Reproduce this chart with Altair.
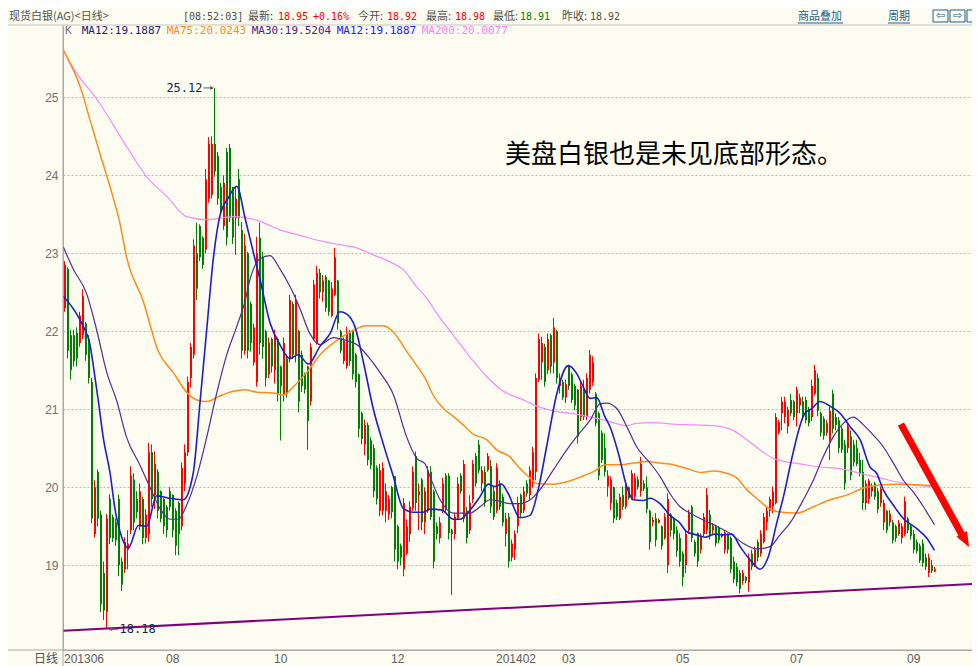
import altair as alt
import pandas as pd

# ---------------- data ----------------
# daily candles (open, high, low, close), Jun 2013 -> Sep 2014
candles = [
    (22.30, 22.90, 22.25, 22.85), (22.80, 22.82, 21.65, 21.75), (21.95, 22.02, 21.38, 21.50),
    (21.95, 22.02, 21.55, 21.62), (21.98, 22.05, 21.55, 21.65), (21.85, 22.25, 21.80, 22.20),
    (21.95, 22.54, 21.90, 22.45), (22.10, 22.12, 21.62, 21.70), (21.90, 21.95, 21.33, 21.40),
    (21.35, 21.40, 19.54, 19.60), (19.40, 20.09, 19.36, 20.00), (20.20, 20.23, 19.50, 19.60),
    (19.65, 19.70, 18.40, 18.50), (18.90, 19.05, 18.30, 18.42), (18.40, 19.66, 18.18, 19.60),
    (19.85, 19.91, 19.27, 19.35), (19.62, 19.65, 19.30, 19.35), (19.55, 19.60, 19.25, 19.32),
    (19.85, 19.91, 18.86, 19.00), (19.05, 19.10, 18.67, 18.75), (18.95, 19.36, 18.90, 19.30),
    (19.20, 19.45, 18.95, 19.28), (19.45, 20.27, 19.40, 20.15), (20.10, 20.18, 19.45, 19.55),
    (19.85, 19.95, 19.60, 19.68), (19.50, 20.05, 19.45, 19.95), (19.85, 19.88, 19.27, 19.35),
    (19.35, 19.72, 19.28, 19.65), (19.40, 20.57, 19.30, 20.45), (20.45, 20.55, 19.75, 19.85),
    (19.90, 20.46, 19.72, 20.30), (20.20, 20.23, 19.60, 19.70), (19.95, 19.96, 19.55, 19.60),
    (19.85, 19.86, 19.40, 19.50), (19.75, 19.77, 19.36, 19.45), (19.95, 20.00, 19.70, 19.75),
    (19.90, 19.91, 19.36, 19.45), (19.70, 19.73, 19.13, 19.25), (19.80, 19.82, 19.13, 19.40),
    (19.50, 20.32, 19.45, 20.25), (20.05, 20.55, 19.95, 20.45), (20.45, 21.42, 20.40, 21.35),
    (21.40, 21.85, 21.28, 21.80), (21.70, 23.18, 21.65, 23.10), (23.00, 23.39, 22.40, 22.55),
    (23.35, 23.37, 22.90, 22.95), (23.20, 23.22, 22.80, 22.85), (23.05, 24.08, 23.00, 23.95),
    (23.70, 24.49, 23.65, 24.40), (23.75, 24.50, 23.70, 24.40), (24.40, 25.12, 23.98, 24.05),
    (24.25, 24.30, 23.62, 23.70), (23.85, 23.90, 23.50, 23.55), (23.35, 24.00, 23.30, 23.90),
    (24.30, 24.35, 23.10, 23.20), (24.35, 24.40, 23.40, 23.45), (23.85, 23.85, 23.12, 23.20),
    (23.45, 23.85, 22.98, 23.70), (23.95, 24.08, 23.35, 23.45), (23.30, 23.40, 21.65, 21.75),
    (21.75, 23.25, 21.70, 23.10), (23.00, 23.02, 21.65, 21.75), (22.35, 22.38, 21.74, 21.85),
    (21.60, 22.10, 21.56, 22.05), (21.35, 23.21, 21.29, 23.00), (23.20, 23.39, 21.70, 21.85),
    (22.95, 23.02, 21.65, 21.80), (22.00, 22.02, 21.29, 21.40), (21.45, 21.92, 21.40, 21.85),
    (21.90, 21.92, 21.47, 21.55), (21.50, 22.02, 21.33, 21.95), (21.90, 21.92, 21.10, 21.20),
    (21.55, 21.56, 20.60, 21.30), (21.20, 21.92, 21.10, 21.85), (21.65, 21.70, 21.15, 21.20),
    (21.65, 22.47, 21.60, 22.40), (22.35, 22.38, 21.65, 21.70), (21.70, 22.47, 21.60, 22.40),
    (22.00, 22.02, 20.96, 21.10), (21.70, 21.75, 21.22, 21.30), (21.45, 21.47, 21.20, 21.25),
    (21.55, 21.56, 20.48, 20.85), (21.10, 21.85, 21.05, 21.80), (21.90, 22.66, 21.88, 22.60),
    (21.85, 22.84, 21.83, 22.75), (22.75, 22.80, 22.42, 22.50), (22.50, 22.72, 22.38, 22.65),
    (22.70, 22.72, 22.25, 22.30), (22.65, 22.66, 22.20, 22.25), (22.20, 22.63, 22.18, 22.55),
    (22.47, 23.07, 22.45, 22.95), (22.65, 22.66, 22.02, 22.10), (22.00, 22.02, 21.72, 21.75),
    (21.62, 21.92, 21.58, 21.88), (21.55, 22.06, 21.52, 21.98), (21.98, 22.02, 21.56, 21.62),
    (22.00, 22.02, 21.38, 21.45), (21.70, 21.72, 21.28, 21.35), (21.45, 21.46, 20.64, 20.75),
    (20.95, 20.97, 20.55, 20.62), (20.55, 20.87, 20.41, 20.80), (20.80, 20.83, 20.28, 20.35),
    (20.60, 20.64, 20.23, 20.28), (20.50, 20.55, 19.87, 19.95), (20.25, 20.28, 19.78, 19.85),
    (19.70, 20.30, 19.63, 20.22), (19.70, 20.32, 19.64, 20.25), (19.70, 20.05, 19.55, 19.95),
    (19.65, 19.90, 19.58, 19.85), (20.00, 20.02, 19.60, 19.68), (20.14, 20.14, 19.05, 19.20),
    (19.50, 19.52, 18.95, 19.05), (19.25, 19.28, 19.00, 19.10), (18.95, 19.86, 18.86, 19.80),
    (19.15, 19.59, 19.13, 19.50), (19.40, 19.82, 19.30, 19.75), (19.73, 20.27, 19.70, 20.20),
    (20.40, 20.46, 19.70, 19.80), (19.90, 20.05, 19.45, 19.95), (20.10, 20.12, 19.45, 19.55),
    (19.55, 20.00, 19.40, 19.95), (19.70, 20.27, 19.67, 20.22), (20.20, 20.27, 19.58, 19.62),
    (19.95, 19.97, 18.96, 19.05), (19.50, 19.55, 19.33, 19.40), (19.35, 19.62, 19.28, 19.55),
    (19.70, 20.12, 19.67, 20.05), (20.15, 20.18, 19.67, 19.72), (20.15, 20.18, 19.33, 19.41),
    (19.45, 19.47, 18.62, 19.40), (19.40, 19.67, 19.33, 19.62), (19.60, 20.13, 19.58, 20.05),
    (20.15, 20.18, 19.92, 19.95), (19.60, 20.35, 19.55, 20.30), (19.70, 19.75, 19.28, 19.35),
    (19.45, 19.90, 19.40, 19.80), (19.85, 20.35, 19.80, 20.30), (20.40, 20.44, 20.01, 20.05),
    (20.55, 20.61, 20.18, 20.22), (20.05, 20.27, 19.95, 20.22), (20.20, 20.27, 19.75, 19.80),
    (20.22, 20.44, 20.20, 20.40), (20.27, 20.35, 19.67, 19.75), (19.95, 20.01, 19.58, 19.62),
    (19.70, 20.31, 19.67, 20.25), (20.05, 20.09, 19.71, 19.75), (19.88, 19.92, 19.50, 19.55),
    (19.40, 19.67, 19.24, 19.60), (19.62, 19.67, 18.97, 19.05), (19.10, 19.33, 19.05, 19.28),
    (19.20, 19.45, 19.07, 19.40), (19.50, 19.88, 19.41, 19.80), (19.90, 19.92, 19.62, 19.67),
    (19.70, 20.01, 19.67, 19.95), (20.05, 20.09, 19.88, 19.92), (19.90, 20.27, 19.84, 20.22),
    (20.05, 20.52, 20.00, 20.45), (20.20, 21.46, 20.09, 21.40), (21.38, 21.97, 21.35, 21.90),
    (21.60, 21.93, 21.38, 21.85), (21.80, 21.84, 21.29, 21.35), (21.50, 21.97, 21.45, 21.90),
    (21.95, 21.97, 21.46, 21.55), (21.60, 22.17, 21.46, 22.05), (22.00, 22.02, 21.33, 21.40),
    (21.30, 21.46, 21.20, 21.40), (21.35, 21.38, 21.12, 21.15), (21.15, 21.38, 21.08, 21.32),
    (21.55, 21.57, 21.25, 21.30), (21.45, 21.47, 21.08, 21.12), (21.30, 21.33, 20.99, 21.05),
    (21.25, 21.26, 20.56, 20.65), (20.90, 21.35, 20.85, 21.30), (21.25, 21.38, 20.86, 20.90),
    (20.90, 21.46, 20.86, 21.40), (21.25, 21.76, 21.20, 21.70), (21.35, 21.68, 21.30, 21.60),
    (21.20, 21.22, 20.78, 20.82), (20.95, 20.97, 20.09, 20.15), (20.70, 20.73, 20.31, 20.35),
    (20.50, 20.69, 20.14, 20.20), (20.01, 20.22, 19.88, 20.15), (19.80, 20.14, 19.71, 20.10),
    (20.00, 20.01, 19.54, 19.60), (19.80, 19.84, 19.58, 19.62), (19.60, 19.92, 19.58, 19.88),
    (19.90, 20.01, 19.71, 19.75), (19.75, 20.09, 19.72, 20.05), (20.00, 20.01, 19.84, 19.86),
    (19.85, 20.22, 19.84, 20.18), (19.88, 20.18, 19.84, 20.12), (20.10, 20.14, 19.97, 20.00),
    (19.95, 20.39, 19.88, 20.30), (20.05, 20.09, 19.95, 19.98), (20.00, 20.14, 19.67, 19.72),
    (19.70, 19.71, 19.20, 19.30), (19.55, 19.62, 19.50, 19.58), (19.60, 19.67, 19.24, 19.32),
    (19.55, 19.60, 19.54, 19.58), (19.50, 19.51, 19.20, 19.25), (19.35, 19.67, 19.33, 19.62),
    (19.00, 19.92, 18.90, 19.85), (19.65, 19.67, 19.37, 19.45), (19.60, 19.62, 19.33, 19.40),
    (19.45, 19.50, 19.11, 19.18), (19.35, 19.41, 18.98, 19.05), (19.15, 19.18, 18.73, 18.85),
    (19.00, 19.45, 18.90, 19.40), (19.45, 19.71, 19.40, 19.67), (19.75, 19.77, 19.30, 19.35),
    (19.30, 19.33, 19.11, 19.15), (19.41, 19.42, 18.98, 19.05), (19.20, 19.41, 19.15, 19.38),
    (19.40, 19.67, 19.37, 19.62), (19.45, 19.99, 19.40, 19.90), (19.65, 19.71, 19.33, 19.38),
    (19.45, 19.54, 19.40, 19.50), (19.50, 19.52, 19.24, 19.28), (19.48, 19.50, 19.28, 19.32),
    (19.40, 19.41, 19.35, 19.37), (19.20, 19.45, 19.15, 19.42), (19.40, 19.41, 19.15, 19.20),
    (19.35, 19.37, 18.90, 18.95), (19.05, 19.11, 18.77, 18.82), (18.98, 19.03, 18.73, 18.78),
    (18.90, 18.94, 18.64, 18.70), (18.80, 18.94, 18.75, 18.90), (18.85, 18.86, 18.77, 18.80),
    (18.78, 19.15, 18.66, 19.10), (19.15, 19.20, 18.94, 18.98), (19.00, 19.24, 18.98, 19.20),
    (19.30, 19.33, 19.05, 19.10), (19.15, 19.45, 19.11, 19.40), (19.30, 19.67, 19.28, 19.62),
    (19.55, 19.75, 19.45, 19.70), (19.70, 19.88, 19.62, 19.85), (19.75, 20.01, 19.67, 19.95),
    (19.80, 20.95, 19.78, 20.90), (20.70, 20.86, 20.68, 20.84), (20.95, 21.16, 20.73, 21.10),
    (20.90, 21.16, 20.82, 21.10), (20.78, 21.03, 20.69, 20.99), (21.12, 21.20, 20.91, 20.95),
    (21.10, 21.12, 20.86, 20.90), (20.95, 21.29, 20.78, 21.25), (21.05, 21.20, 20.95, 21.15),
    (21.10, 21.16, 20.86, 20.92), (21.12, 21.16, 20.82, 20.86), (21.00, 21.03, 20.78, 20.82),
    (20.90, 21.38, 20.85, 21.30), (21.20, 21.57, 21.18, 21.50), (21.40, 21.46, 20.91, 20.98),
    (20.95, 20.97, 20.65, 20.70), (20.88, 20.91, 20.61, 20.66), (20.70, 20.86, 20.66, 20.82),
    (20.60, 21.03, 20.35, 20.98), (21.20, 21.25, 20.69, 20.75), (20.90, 20.95, 20.73, 20.80),
    (20.86, 20.90, 20.44, 20.50), (20.75, 20.78, 20.44, 20.48), (20.55, 20.61, 19.97, 20.05),
    (20.50, 20.82, 20.44, 20.78), (20.65, 20.73, 20.09, 20.15), (20.55, 20.61, 20.27, 20.32),
    (20.50, 20.61, 20.27, 20.30), (20.35, 20.44, 20.14, 20.18), (20.20, 20.35, 19.71, 19.80),
    (19.80, 20.09, 19.71, 20.05), (19.85, 20.11, 19.79, 20.08), (19.95, 20.05, 19.88, 20.01),
    (20.05, 20.07, 19.84, 19.88), (19.95, 19.99, 19.67, 19.72), (19.80, 20.01, 19.75, 19.98),
    (19.55, 19.84, 19.45, 19.80), (19.70, 19.71, 19.41, 19.45), (19.55, 19.71, 19.50, 19.66),
    (19.55, 19.58, 19.28, 19.32), (19.50, 19.52, 19.30, 19.35), (19.40, 19.58, 19.38, 19.55),
    (19.35, 19.54, 19.28, 19.50), (19.40, 19.88, 19.37, 19.82), (19.60, 19.62, 19.41, 19.45),
    (19.50, 19.52, 19.33, 19.38), (19.40, 19.45, 19.15, 19.20), (19.30, 19.33, 19.15, 19.18),
    (19.25, 19.28, 19.03, 19.06), (19.28, 19.33, 18.98, 19.03), (19.10, 19.15, 18.94, 18.98),
    (18.90, 19.15, 18.85, 19.10), (19.00, 19.07, 18.90, 18.93), (18.92, 18.98, 18.91, 18.95),
]

month_idx = [0, 34, 70, 109, 144, 166, 204, 242, 281]
month_lbl = ["201306", "08", "10", "12", "201402", "03", "05", "07", "09"]
y_ticks = [19, 20, 21, 22, 23, 24, 25]

ma12_idx = [-0.4, 2.9, 6.3, 8.5, 9.6, 11.3, 12.9, 15.2, 16.8, 19.1, 21.3, 24.6, 27.4, 30.7, 35.2,
            39.6, 42.9, 45.2, 47.4, 49.6, 51.8, 54.6, 57.4, 60.2, 62.9, 65.2, 68.5, 71.8, 75.2,
            77.9, 81.3, 85.2, 88.5, 91.8, 94.1, 96.8, 99.6, 102.9, 106.3, 109.6, 112.9, 116.3,
            119.6, 121.8, 125.7, 129.6, 131.8, 135.2, 138.5, 141.3, 143.5, 145.7, 147.9, 151.8,
            155.2, 157.9, 160.7, 164.1, 167.9, 170.7, 172.9, 175.2, 177.4, 180.2, 181.8, 184.6,
            187.4, 189.6, 192.9, 195.2, 198.5, 201.8, 205.2, 207.4, 210.7, 213.5, 216.8, 219.6,
            222.4, 225.2, 228.5, 231.8, 234.6, 237.4, 240.2, 241.8, 246.8, 249.1, 251.8, 255.2,
            258.5, 261.8, 265.2, 268.5, 270.7, 272.9, 276.3, 279.6, 284.1, 287.4, 290]
ma12_val = [22.45, 22.29, 22.06, 21.83, 21.56, 21.10, 20.64, 20.18, 19.73, 19.36, 19.22, 19.51,
            19.50, 19.89, 19.86, 19.84, 20.18, 21.10, 22.02, 22.93, 23.48, 23.71, 23.86, 23.45,
            23.02, 22.66, 22.11, 21.83, 21.65, 21.70, 21.58, 21.81, 21.97, 22.25, 22.22, 22.06,
            21.61, 21.01, 20.55, 20.14, 19.73, 19.68, 19.68, 19.72, 19.71, 19.59, 19.59, 19.71,
            19.88, 20.04, 20.01, 20.04, 19.92, 19.61, 19.64, 19.97, 20.52, 21.20, 21.56, 21.46,
            21.29, 21.14, 21.15, 20.90, 20.78, 20.44, 20.01, 19.84, 19.83, 19.86, 19.79, 19.64,
            19.54, 19.43, 19.39, 19.36, 19.40, 19.39, 19.40, 19.24, 19.07, 18.95, 19.11, 19.54,
            19.97, 20.26, 20.95, 21.01, 21.10, 21.04, 20.95, 20.78, 20.61, 20.26, 20.18, 19.97,
            19.77, 19.60, 19.47, 19.35, 19.19]

ma30_idx = [-0.4, 2.9, 7.4, 10.7, 14.1, 17.4, 20.7, 25.2, 28.5, 31.8, 35.2, 37.9, 40.7, 44.1,
            47.4, 50.7, 54.1, 57.4, 60.2, 61.8, 65.2, 68.5, 71.8, 75.2, 78.5, 81.8, 85.2, 89.6,
            94.1, 97.4, 100.7, 105.2, 109.6, 114.1, 117.4, 120.2, 121.8, 125.2, 129.6, 135.2,
            138.5, 141.8, 145.2, 148.5, 151.8, 155.2, 158.5, 162.9, 167.4, 170.7, 175.2, 178.5,
            180.7, 184.1, 187.4, 190.7, 195.2, 198.5, 201.8, 205.2, 208.5, 212.9, 217.4, 221.8,
            226.3, 230.7, 235.2, 238.5, 241.8, 246.3, 249.6, 252.9, 256.3, 259.6, 262.9, 266.3,
            269.6, 272.9, 276.3, 279.6, 282.9, 286.3, 290]
ma30_val = [23.08, 22.80, 22.48, 22.02, 21.47, 21.11, 20.64, 20.28, 20.00, 19.73, 19.59, 19.59,
            19.77, 20.14, 20.64, 21.20, 21.70, 22.06, 22.39, 22.66, 22.93, 22.97, 22.80, 22.57,
            22.29, 21.97, 21.83, 21.92, 21.88, 21.83, 21.70, 21.47, 21.19, 20.64, 20.37, 20.30,
            20.14, 19.84, 19.67, 19.67, 19.75, 19.84, 19.82, 19.79, 19.79, 19.84, 19.97, 20.22,
            20.48, 20.65, 20.86, 21.07, 21.08, 21.01, 20.78, 20.52, 20.31, 20.14, 19.92, 19.75,
            19.67, 19.58, 19.50, 19.41, 19.28, 19.21, 19.24, 19.39, 19.54, 19.84, 20.09, 20.39,
            20.65, 20.82, 20.90, 20.80, 20.67, 20.52, 20.31, 20.09, 19.94, 19.75, 19.52]

ma75_idx = [-0.5, 1.3, 5.2, 8.5, 11.8, 15.2, 18.5, 20.7, 26.3, 31.3, 36.3, 40.7, 44.1, 47.4,
            51.8, 56.3, 60.2, 64.1, 69.6, 72.9, 76.3, 80.7, 85.2, 90.7, 95.2, 100.7, 106.3,
            109.6, 114.1, 117.4, 120.2, 122.9, 126.3, 129.6, 132.9, 136.3, 140.7, 144.1, 148.5,
            151.8, 154.6, 157.4, 162.9, 167.4, 171.8, 176.3, 180.2, 185.2, 189.6, 194.1, 198.5,
            202.9, 207.4, 212.2, 216.3, 220.7, 224.1, 227.4, 230.7, 234.1, 237.4, 244.1, 249.6,
            255.2, 260.7, 266.3, 271.8, 277.4, 285.2, 290]
ma75_val = [25.61, 25.48, 25.14, 24.71, 24.28, 23.85, 23.38, 22.95, 22.38, 21.74, 21.47, 21.22,
            21.12, 21.10, 21.17, 21.23, 21.25, 21.22, 21.21, 21.18, 21.29, 21.47, 21.70, 21.88,
            21.99, 22.07, 22.07, 21.99, 21.74, 21.56, 21.40, 21.18, 21.01, 20.91, 20.80, 20.68,
            20.61, 20.48, 20.39, 20.24, 20.14, 20.05, 20.04, 20.07, 20.13, 20.20, 20.29, 20.29,
            20.31, 20.33, 20.31, 20.29, 20.24, 20.19, 20.21, 20.18, 20.12, 19.97, 19.86, 19.75,
            19.69, 19.67, 19.75, 19.84, 19.90, 19.99, 20.03, 20.04, 20.03, 20.02]

ma200_idx = [-0.5, 1.3, 11.8, 20.7, 27.4, 34.1, 40.7, 47.4, 56.3, 65.2, 71.8, 78.5, 85.2, 91.8,
             97.4, 102.9, 108.5, 112.9, 117.4, 120.2, 124.1, 129.6, 135.2, 140.7, 146.3, 151.8,
             157.4, 162.9, 168.5, 174.1, 180.2, 182.9, 187.4, 190.7, 196.3, 202.9, 209.6, 216.3,
             222.9, 227.4, 231.8, 236.3, 240.2, 245.2, 251.8, 258.5, 265.2, 271.8, 278.5, 285.2, 290]
ma200_val = [25.62, 25.48, 24.92, 24.37, 23.98, 23.73, 23.47, 23.43, 23.47, 23.41, 23.30, 23.23,
             23.16, 23.11, 23.07, 22.98, 22.89, 22.79, 22.57, 22.45, 22.23, 21.95, 21.67, 21.42,
             21.23, 21.14, 21.04, 20.98, 20.95, 20.91, 20.86, 20.83, 20.79, 20.82, 20.83, 20.81,
             20.80, 20.79, 20.73, 20.61, 20.48, 20.37, 20.33, 20.30, 20.26, 20.24, 20.18, 20.12,
             20.06, 20.02, 20.01]

support_idx = [-0.5, 302.5]
support_val = [18.16, 18.76]

arrow_idx = [278.8, 299.3]
arrow_val = [20.81, 19.38]
arrow_head = (299.9, 19.346)

note_text = "美盘白银也是未见底部形态。"
note_pos = (146.8, 24.26)

peak = (50, 25.12)
trough = (14, 18.18)

legend_names = ["MA12", "MA75", "MA30", "MA12", "MA200"]
legend_vals = ["19.1887", "20.0243", "19.5204", "19.1887", "20.0077"]
quote_last, quote_chg, quote_open, quote_high, quote_low, quote_prev = (
    "18.95", "+0.16%", "18.92", "18.98", "18.91", "18.92")

# ---------------- layout / style ----------------
W, H = 909, 624
BG = "#fcfcf0"
CJK = "Noto Sans CJK SC"
MONO = "DejaVu Sans Mono, Noto Sans CJK SC"
GRAY = "#505050"
AXIS_C = "#a8a8a8"
# arrowhead pointing down-right along the arrow direction (unit box -1..1)
HEAD_PATH = "M0.485,0.875 L0.282,-0.729 L-0.768,-0.147 Z"

xs = alt.Scale(domain=[-0.5, 302.5], nice=False, zero=False)
ys = alt.Scale(domain=[17.914, 25.914], nice=False, zero=False)

lbl_expr = "".join(f"datum.value == {i} ? '{t}' : " for i, t in zip(month_idx, month_lbl)) + "''"
x_axis = alt.Axis(values=month_idx, labelExpr=lbl_expr, title=None, grid=False, ticks=False,
                  domain=True, domainColor=AXIS_C, labelColor="#606060",
                  labelFont="Liberation Sans", labelFontSize=12, labelAlign="left",
                  labelBaseline="top", labelPadding=3, labelFlush=False, labelOverlap=False,
                  labelOffset=-1)
y_axis = alt.Axis(values=y_ticks, title=None, grid=True, gridColor="#b8b8b8", gridDash=[2, 2],
                  gridWidth=1, ticks=False, domain=True, domainColor=AXIS_C,
                  labelColor="#707070", labelFont="Liberation Sans", labelFontSize=12,
                  labelPadding=5, labelAlign="right", labelBaseline="middle")


def X(f):
    return alt.X(f, type="quantitative", scale=xs, axis=x_axis)


def Y(f):
    return alt.Y(f, type="quantitative", scale=ys, axis=y_axis)


cdf = pd.DataFrame(candles, columns=["o", "h", "l", "c"])
cdf["i"] = range(len(cdf))
cdf["dir"] = ["up" if c >= o else "down" for o, c in zip(cdf["o"], cdf["c"])]
ccol = alt.Color("dir:N", scale=alt.Scale(domain=["up", "down"], range=["#ff0000", "#008000"]),
                 legend=None)

wicks = alt.Chart(cdf).mark_rule(strokeWidth=1).encode(x=X("i"), y=Y("l"), y2="h:Q", color=ccol)
bodies = alt.Chart(cdf).mark_rule(strokeWidth=2, xOffset=0.5).encode(
    x=X("i"), y=Y("o"), y2="c:Q", color=ccol)


def ma_line(idx, val, color, w):
    d = pd.DataFrame({"idx": idx, "v": val})
    return alt.Chart(d).mark_line(color=color, strokeWidth=w, interpolate="monotone",
                                  clip=True).encode(x=X("idx"), y=Y("v"))


ma200 = ma_line(ma200_idx, ma200_val, "#f78cf2", 1.2)
ma75 = ma_line(ma75_idx, ma75_val, "#ff8c1a", 1.5)
ma30 = ma_line(ma30_idx, ma30_val, "#5a2a8c", 1.2)
ma12 = ma_line(ma12_idx, ma12_val, "#1c1cd2", 1.6)

support = alt.Chart(pd.DataFrame({"idx": support_idx, "v": support_val})).mark_line(
    color="#800080", strokeWidth=2, clip=True).encode(x=X("idx"), y=Y("v"))

arrow_shaft = alt.Chart(pd.DataFrame({"idx": arrow_idx, "v": arrow_val})).mark_line(
    color="#ff0000", strokeWidth=7, strokeCap="butt").encode(x=X("idx"), y=Y("v"))
arrow_tip = alt.Chart(pd.DataFrame({"idx": [arrow_head[0]], "v": [arrow_head[1]]})).mark_point(
    shape=HEAD_PATH, filled=True, size=400, color="#ff0000", opacity=1).encode(
    x=X("idx"), y=Y("v"))

note = alt.Chart(pd.DataFrame({"idx": [note_pos[0]], "v": [note_pos[1]], "t": [note_text]})).mark_text(
    align="left", baseline="middle", font=CJK, fontSize=26, color="#000000").encode(
    x=X("idx"), y=Y("v"), text="t:N")

pk = pd.DataFrame({"idx": [peak[0]], "v": [peak[1]], "t": [f"{peak[1]:.2f}"]})
peak_txt = alt.Chart(pk).mark_text(align="right", baseline="middle", dx=-12, font=MONO,
                                   fontSize=12, color="#0a2850").encode(x=X("idx"), y=Y("v"), text="t:N")
peak_rule = alt.Chart(pk).mark_rule(color="#606060", strokeWidth=1, xOffset=-11, x2Offset=-2).encode(
    x=X("idx"), x2="idx:Q", y=Y("v"))
peak_head = alt.Chart(pk).mark_point(shape="triangle-right", filled=True, size=18, color="#606060",
                                     xOffset=-2.5, opacity=1).encode(x=X("idx"), y=Y("v"))

tr = pd.DataFrame({"idx": [trough[0]], "v": [trough[1]], "t": [f"{trough[1]:.2f}"]})
trough_txt = alt.Chart(tr).mark_text(align="left", baseline="middle", dx=13, font=MONO,
                                     fontSize=12, color="#0a2850").encode(x=X("idx"), y=Y("v"), text="t:N")
trough_rule = alt.Chart(tr).mark_rule(color="#606060", strokeWidth=1, xOffset=4, x2Offset=12).encode(
    x=X("idx"), x2="idx:Q", y=Y("v"))
trough_head = alt.Chart(tr).mark_point(shape="triangle-left", filled=True, size=18, color="#606060",
                                       xOffset=4, opacity=1).encode(x=X("idx"), y=Y("v"))

one = pd.DataFrame({"k": [0]})


def ptext(txt, x, y, color, size, font, align="left", baseline="middle"):
    return alt.Chart(one).mark_text(align=align, baseline=baseline, font=font, fontSize=size,
                                    color=color).encode(x=alt.value(x), y=alt.value(y),
                                                        text=alt.value(txt))


def prule(x, x2, y, y2, color, w=1):
    return alt.Chart(one).mark_rule(color=color, strokeWidth=w).encode(
        x=alt.value(x), x2=alt.value(x2), y=alt.value(y), y2=alt.value(y2))


def prect(x, x2, y, y2, stroke):
    return alt.Chart(one).mark_rect(fill=BG, stroke=stroke, strokeWidth=1).encode(
        x=alt.value(x), x2=alt.value(x2), y=alt.value(y), y2=alt.value(y2))


HY = -9.5  # header text row (relative to plot top)
HC = 11    # header CJK font size
LINK = "#1f5f8f"
deco = [
    prule(-55, W, -1, -1, "#c4c4c4"),          # header separator
    prule(0, 0, -1, H + 24, AXIS_C),             # left axis line (extended)
    prule(-55, W, H, H, AXIS_C),                 # bottom axis line (extended)
    ptext("现货白银(AG)<日线>", -54, HY, GRAY, HC, CJK),
    ptext("[08:52:03]", 120, HY, GRAY, 10, MONO),
    ptext("最新:", 185, HY, GRAY, HC, CJK),
    ptext(quote_last, 215, HY, "#ff0000", 10, MONO),
    ptext(quote_chg, 250, HY, "#ff0000", 10, MONO),
    ptext("今开:", 295, HY, GRAY, HC, CJK),
    ptext(quote_open, 324, HY, "#ff0000", 10, MONO),
    ptext("最高:", 363, HY, GRAY, HC, CJK),
    ptext(quote_high, 392, HY, "#ff0000", 10, MONO),
    ptext("最低:", 430, HY, GRAY, HC, CJK),
    ptext(quote_low, 457, HY, "#008000", 10, MONO),
    ptext("昨收:", 499, HY, GRAY, HC, CJK),
    ptext(quote_prev, 527, HY, GRAY, 10, MONO),
    ptext("商品叠加", 735, HY, LINK, HC, CJK),
    prule(735, 780, -3, -3, LINK),
    ptext("周期", 825, HY, LINK, HC, CJK),
    prule(825, 847, -3, -3, LINK),
    prect(870, 885, -16, -4, LINK),
    prect(887, 902, -16, -4, LINK),
    prect(904, 919, -16, -4, LINK),
    ptext("⇦", 877.5, -10, LINK, 11, "DejaVu Sans", align="center"),
    ptext("⇨", 894.5, -10, LINK, 11, "DejaVu Sans", align="center"),
    ptext("日线", -5, H + 9, GRAY, 12, CJK, align="right"),
    ptext("K", 2, 5, "#707070", 11, MONO),
]
leg_colors = ["#202070", "#ff8c1a", "#502080", "#2020ff", "#ff80ff"]
leg_x = [18.7, 103.7, 188.7, 273.7, 358.7]
for n, v, c, x in zip(legend_names, legend_vals, leg_colors, leg_x):
    deco.append(ptext(f"{n}:{v}", x, 5, c, 11, MONO))

chart = alt.layer(
    wicks, bodies, ma200, ma75, ma30, ma12, support, arrow_shaft, arrow_tip, note,
    peak_rule, peak_head, peak_txt, trough_rule, trough_head, trough_txt, *deco
).properties(
    width=W, height=H,
    padding={"left": 55, "top": 18, "right": 0, "bottom": 16},
    autosize=alt.AutoSizeParams(type="none"),
    background=BG,
).configure_view(strokeWidth=0, fill=BG)

chart.save("out.html", embed_options={"renderer": "svg", "actions": False})
